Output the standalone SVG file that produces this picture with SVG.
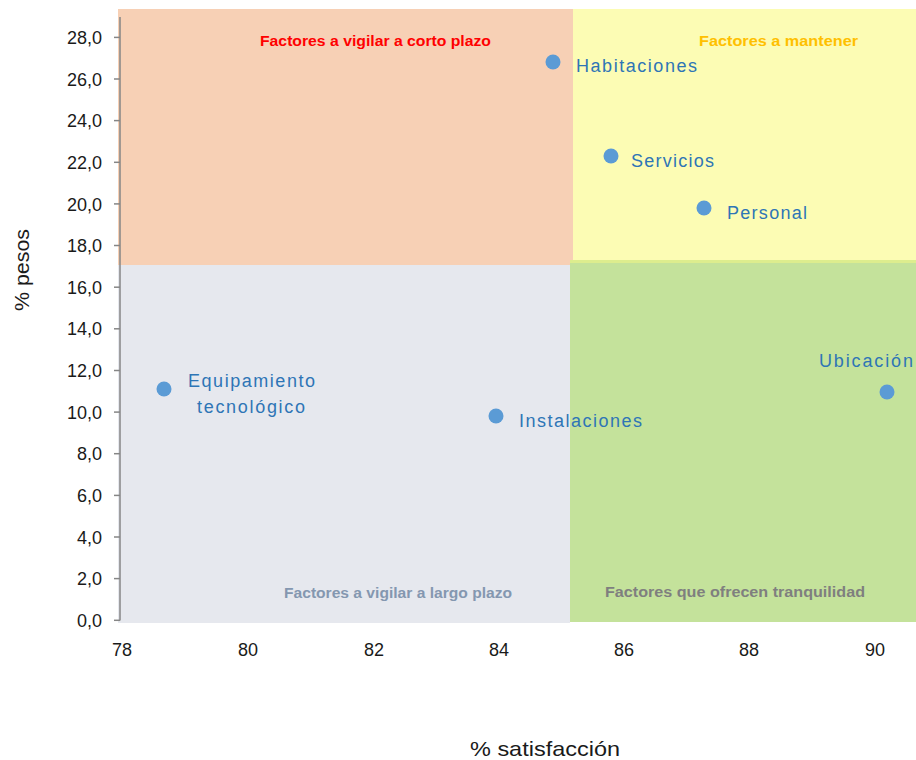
<svg xmlns="http://www.w3.org/2000/svg" width="916" height="760" viewBox="0 0 916 760">
<style>
.tick{font-family:"Liberation Sans",Arial,sans-serif;font-size:18px;fill:#1a1a1a}
.ylab{text-anchor:end}
.xlab{text-anchor:middle}
.title{font-family:"Liberation Sans",Arial,sans-serif;font-size:21px;fill:#1a1a1a}
.q{font-family:"Liberation Sans",Arial,sans-serif;font-size:14.5px;font-weight:bold}
.pt{fill:#5B9BD5}
.lbl{font-family:"Liberation Sans",Arial,sans-serif;font-size:18px;fill:#2E75B6}
.tk{stroke:#868686;stroke-width:1.5}
</style>
<rect width="916" height="760" fill="#ffffff"/>
<g id="quadrants">
<rect id="q-corto" x="118" y="9" width="455" height="256" fill="#F7D0B5"/>
<rect id="q-mantener" x="573" y="9" width="343" height="253" fill="#FCFCB4"/>
<rect id="q-tranquilidad" x="570" y="260" width="346" height="362" fill="#C4E29B"/>
<rect x="570" y="260" width="346" height="3" fill="#DDED8E"/>
<rect id="q-largo" x="118" y="265" width="452" height="358" fill="#E6E8EE"/>
<text class="q" x="260" y="46" fill="#FF0000" textLength="231" lengthAdjust="spacingAndGlyphs">Factores a vigilar a corto plazo</text>
<text class="q" x="699" y="46" fill="#FFC000" textLength="159" lengthAdjust="spacingAndGlyphs">Factores a mantener</text>
<text class="q" x="284" y="598" fill="#8497B0" textLength="228" lengthAdjust="spacingAndGlyphs">Factores a vigilar a largo plazo</text>
<text class="q" x="605" y="597" fill="#7F7F7F" textLength="260" lengthAdjust="spacingAndGlyphs">Factores que ofrecen tranquilidad</text>
</g>
<g id="axes">
<line class="tk" x1="120" y1="17" x2="120" y2="620.5"/>
<g class="tk">
<line x1="114" y1="37.4" x2="120" y2="37.4"/>
<line x1="114" y1="79" x2="120" y2="79"/>
<line x1="114" y1="120.6" x2="120" y2="120.6"/>
<line x1="114" y1="162.3" x2="120" y2="162.3"/>
<line x1="114" y1="203.9" x2="120" y2="203.9"/>
<line x1="114" y1="245.5" x2="120" y2="245.5"/>
<line x1="114" y1="287.2" x2="120" y2="287.2"/>
<line x1="114" y1="328.8" x2="120" y2="328.8"/>
<line x1="114" y1="370.5" x2="120" y2="370.5"/>
<line x1="114" y1="412.1" x2="120" y2="412.1"/>
<line x1="114" y1="453.7" x2="120" y2="453.7"/>
<line x1="114" y1="495.4" x2="120" y2="495.4"/>
<line x1="114" y1="537" x2="120" y2="537"/>
<line x1="114" y1="578.6" x2="120" y2="578.6"/>
<line x1="114" y1="620.3" x2="120" y2="620.3"/>
</g>
<g class="tick ylab">
<text x="102" y="44">28,0</text>
<text x="102" y="85.5">26,0</text>
<text x="102" y="127">24,0</text>
<text x="102" y="169">22,0</text>
<text x="102" y="210.5">20,0</text>
<text x="102" y="252">18,0</text>
<text x="102" y="293.5">16,0</text>
<text x="102" y="335">14,0</text>
<text x="102" y="377">12,0</text>
<text x="102" y="418.5">10,0</text>
<text x="102" y="460">8,0</text>
<text x="102" y="502">6,0</text>
<text x="102" y="543.5">4,0</text>
<text x="102" y="585">2,0</text>
<text x="102" y="627">0,0</text>
</g>
<g class="tick xlab">
<text x="122" y="656">78</text>
<text x="248" y="656">80</text>
<text x="374" y="656">82</text>
<text x="499" y="656">84</text>
<text x="624" y="656">86</text>
<text x="749" y="656">88</text>
<text x="875" y="656">90</text>
</g>
<text class="title" x="545" y="756" text-anchor="middle" textLength="150" lengthAdjust="spacingAndGlyphs">% satisfacción</text>
<text class="title" transform="translate(29,270) rotate(-90)" text-anchor="middle" textLength="82" lengthAdjust="spacingAndGlyphs">% pesos</text>
</g>
<g id="habitaciones">
<circle class="pt" cx="553" cy="62" r="7.5"/>
<text class="lbl" x="576" y="72" textLength="121" lengthAdjust="spacing">Habitaciones</text>
</g>
<g id="servicios">
<circle class="pt" cx="611" cy="156" r="7.5"/>
<text class="lbl" x="631" y="167" textLength="83" lengthAdjust="spacing">Servicios</text>
</g>
<g id="personal">
<circle class="pt" cx="704" cy="208" r="7.5"/>
<text class="lbl" x="727" y="219" textLength="80" lengthAdjust="spacing">Personal</text>
</g>
<g id="ubicacion">
<circle class="pt" cx="887" cy="392" r="7.5"/>
<text class="lbl" x="819" y="367" textLength="94" lengthAdjust="spacing">Ubicación</text>
</g>
<g id="equipamiento">
<circle class="pt" cx="164" cy="389" r="7.5"/>
<text class="lbl" x="188" y="387" textLength="127" lengthAdjust="spacing">Equipamiento</text>
<text class="lbl" x="197" y="413" textLength="108" lengthAdjust="spacing">tecnológico</text>
</g>
<g id="instalaciones">
<circle class="pt" cx="496" cy="416" r="7.5"/>
<text class="lbl" x="519" y="427" textLength="123" lengthAdjust="spacing">Instalaciones</text>
</g>
<g id="connectors"/>
</svg>
